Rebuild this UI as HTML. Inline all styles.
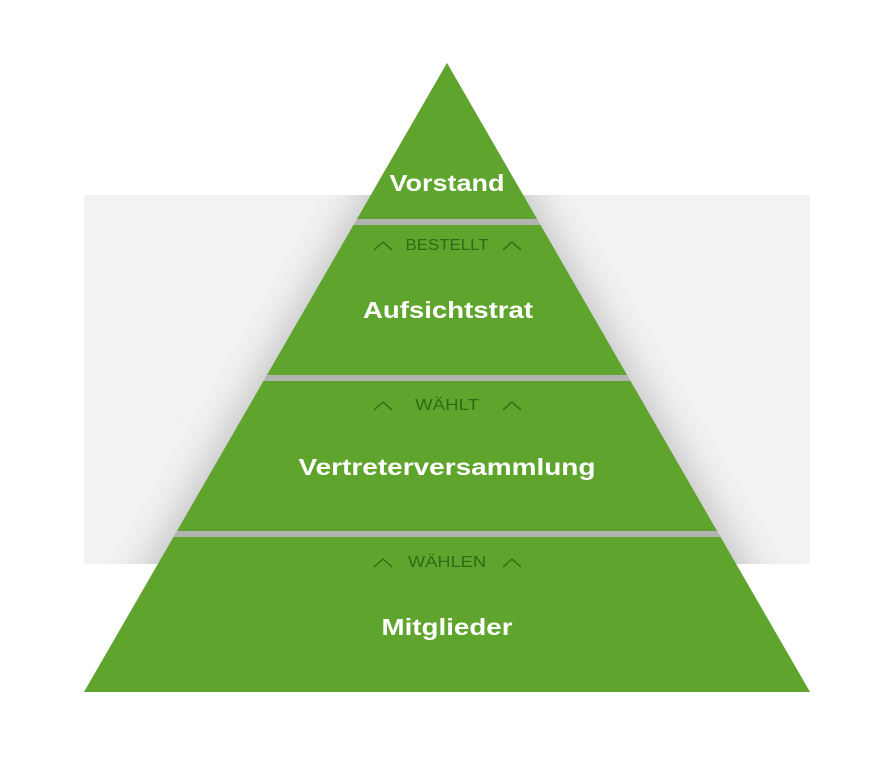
<!DOCTYPE html>
<html><head><meta charset="utf-8"><style>html,body{margin:0;padding:0;background:#fff}svg{display:block}</style></head>
<body>
<svg width="894" height="760" viewBox="0 0 894 760" xmlns="http://www.w3.org/2000/svg">
<defs>
<filter id="b" x="-20%" y="-20%" width="140%" height="140%"><feGaussianBlur stdDeviation="18"/></filter>
<clipPath id="c"><rect x="84" y="195" width="726" height="369"/></clipPath>
</defs>
<rect x="84" y="195" width="726" height="369" fill="#f2f2f2"/>
<g clip-path="url(#c)"><polygon points="447,50 66,705 828,705" fill="#c4c4c4" filter="url(#b)"/></g>
<polygon points="447,63 84,692 810,692" fill="#b3b3b3"/>
<g fill="#5fa52d">
<polygon points="447,63 537,219 357,219"/>
<polygon points="353.5,225 540.5,225 627,375 267,375"/>
<polygon points="263.5,381 630.5,381 717,531 177,531"/>
<polygon points="173.5,537 720.5,537 810,692 84,692"/>
</g>
<g font-family="Liberation Sans, sans-serif" font-weight="bold" fill="#fff" font-size="23" text-anchor="middle">
<text x="447" y="191" textLength="115" lengthAdjust="spacingAndGlyphs">Vorstand</text>
<text x="448" y="318" textLength="170" lengthAdjust="spacingAndGlyphs">Aufsichtstrat</text>
<text x="447" y="475" textLength="297" lengthAdjust="spacingAndGlyphs">Vertreterversammlung</text>
<text x="447" y="635" textLength="131" lengthAdjust="spacingAndGlyphs">Mitglieder</text>
</g>
<g font-family="Liberation Sans, sans-serif" fill="#2d6b14" font-size="16" text-anchor="middle">
<text x="447" y="250" textLength="83" lengthAdjust="spacingAndGlyphs">BESTELLT</text>
<text x="447" y="410" textLength="64" lengthAdjust="spacingAndGlyphs">WÄHLT</text>
<text x="447" y="567" textLength="78" lengthAdjust="spacingAndGlyphs">WÄHLEN</text>
</g>
<g fill="none" stroke="#2d6b14" stroke-width="1.3">
<polyline points="374,250 383,242 392,250"/><polyline points="503,250 512,242 521,250"/>
<polyline points="374,410 383,402 392,410"/><polyline points="503,410 512,402 521,410"/>
<polyline points="374,567 383,559 392,567"/><polyline points="503,567 512,559 521,567"/>
</g>
</svg>
</body></html>
